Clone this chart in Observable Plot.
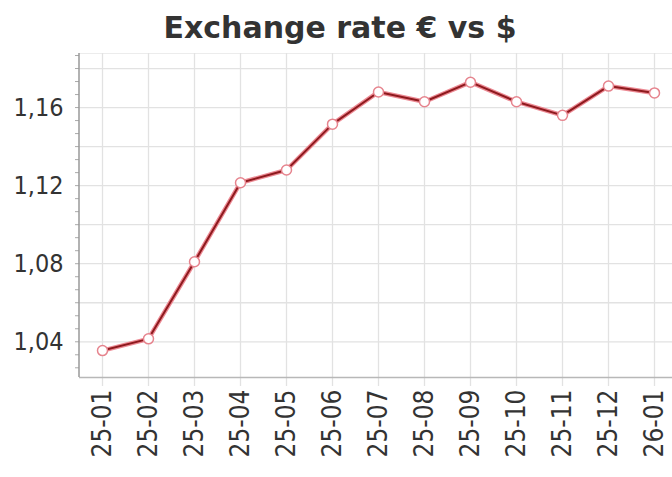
<!DOCTYPE html>
<html>
<head>
<meta charset="utf-8">
<script src="https://cdn.jsdelivr.net/npm/d3@7"></script>
<script src="https://cdn.jsdelivr.net/npm/@observablehq/plot@0.6"></script>
<style>
  html, body { margin: 0; padding: 0; background: #fff; }
  #title { height: 45px; line-height: 56px; text-align: center; font-family: "DejaVu Sans", sans-serif; font-weight: bold; font-size: 30px; color: #333; padding-left: 8px; }
  #chart svg { display: block; }
</style>
</head>
<body>
<div id="title">Exchange rate € vs $</div>
<div id="chart"></div>
<script>
const months = ["25-01","25-02","25-03","25-04","25-05","25-06","25-07","25-08","25-09","25-10","25-11","25-12","26-01"];
const rates = [1.0355, 1.0415, 1.0810, 1.1215, 1.1280, 1.1515, 1.1680, 1.1630, 1.1730, 1.1630, 1.1560, 1.1710, 1.1675];
const yTicks = [1.04, 1.08, 1.12, 1.16];
const yGrid = [1.04, 1.06, 1.08, 1.10, 1.12, 1.14, 1.16, 1.18];

const data = months.map((m, i) => ({month: m, rate: rates[i]}));
const yDomain = [1.0217, 1.1877];
const minorTicks = d3.range(0, 26).map(i => 1.02 + i * 0.04 / 6).filter(v => v >= yDomain[0] && v <= yDomain[1]);

const chart = Plot.plot({
  width: 672,
  height: 432,
  marginLeft: 79,
  marginRight: 0,
  marginTop: 8,
  marginBottom: 100,
  style: {fontFamily: "'DejaVu Sans Condensed', 'DejaVu Sans', sans-serif", fontSize: "25px", color: "#333", background: "#fff"},
  x: {type: "point", domain: months, range: [102, 654], padding: 0, label: null},
  y: {domain: yDomain, label: null},
  marks: [
    Plot.ruleY(yGrid, {stroke: "#e2e2e2", strokeWidth: 1.3}),
    Plot.ruleY([yDomain[1]], {stroke: "#ececec", strokeWidth: 1.2}),
    Plot.ruleX(months, {y1: yDomain[0] - 0.0046, y2: yDomain[1], stroke: "#e2e2e2", strokeWidth: 1.3}),
    Plot.axisY(minorTicks, {tickSize: 4, tickFormat: () => "", stroke: "#aaa", label: null}),
    Plot.axisY(yTicks, {tickFormat: d => d.toFixed(2).replace(".", ","), tickSize: 0, tickPadding: 16, fill: "#333", fontSize: 25, label: null}),
    Plot.axisX({tickRotate: -90, tickSize: 0, tickPadding: 12, fill: "#333", fontSize: 26, label: null}),
    Plot.ruleY([yDomain[0]], {stroke: "#b8b8b8", strokeWidth: 1.5}),
    Plot.line(data, {x: "month", y: "rate", stroke: "#ec8a94", strokeWidth: 4.5}),
    Plot.line(data, {x: "month", y: "rate", stroke: "#8e1a1e", strokeWidth: 2}),
    Plot.dot(data, {x: "month", y: "rate", r: 5, fill: "#fff", stroke: "#e6848e", strokeWidth: 1.5})
  ]
});

document.getElementById("chart").appendChild(chart);
const svg = d3.select(chart);
const yScale = chart.scale("y");
svg.append("line").attr("x1", 79).attr("x2", 79).attr("y1", yScale.apply(yDomain[1])).attr("y2", yScale.apply(yDomain[0])).attr("stroke", "#999").attr("stroke-width", 1.5);
</script>
</body>
</html>
